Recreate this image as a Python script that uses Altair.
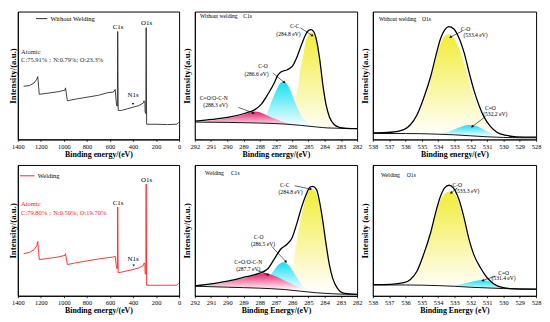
import altair as alt
import pandas as pd

FONT = "Liberation Serif"
NB = "\u00a0"
YEL = "#f2ec38"
CYA = "#14dff2"
PNK = "#e8206c"
RED = "#ff2020"

# ---------------- survey spectra (arbitrary units) ----------------
survey_ev = [1350, 1300, 1260, 1235, 1227, 1214, 1150, 1050, 990, 986, 970, 900, 800, 700, 620, 570, 555,
             543, 536, 533, 529, 500, 450, 400, 350, 310, 304, 297, 295, 289, 286, 282, 200, 100, 20, 5]
survey_without = [165, 167, 175, 187, 195, 140, 143, 148, 153, 160, 120, 125, 131, 137, 145, 147, 155,
                  105, 103, 335, 90, 90, 95, 100, 105, 113, 120, 117, 85, 80, 347, 47, 47, 46, 47, 53]
survey_with = [128, 132, 140, 152, 165, 110, 113, 118, 123, 128, 95, 100, 106, 112, 116, 118, 120,
               85, 82, 270, 70, 72, 76, 80, 85, 92, 100, 97, 68, 65, 340, 32, 32, 32, 32, 38]
survey_ticks = [1400, 1200, 1000, 800, 600, 400, 200, 0]

# ---------------- C1s, without welding ----------------
c1_bg_ev = [292.0, 290.0, 288.0, 286.5, 285.5, 284.5, 283.8, 283.0, 282.0]
c1_bg = [53, 52, 50, 47, 43, 38, 35, 34, 33]
c1_env_ev = [292.0, 290.9, 289.9, 288.9, 288.3, 287.9, 287.5, 287.1, 286.9, 286.7, 286.3, 286.0, 285.7, 285.4,
             285.2, 285.0, 284.85, 284.7, 284.5, 284.3, 284.1, 283.9, 283.7, 283.4, 283.1, 282.7, 282.0]
c1_env = [56, 61, 68, 80, 91, 108, 138, 173, 195, 206, 213, 223, 253, 293,
          318, 333, 336, 331, 303, 243, 163, 103, 68, 45, 37, 34, 33]
c1_cc_ev = [286.2, 286.0, 285.8, 285.6, 285.5, 285.3, 285.2, 285.0, 284.85, 284.7, 284.5, 284.3, 284.1,
            283.95, 283.8, 283.6, 283.4, 283.2]
c1_cc = [47, 83, 123, 173, 213, 263, 293, 318, 328, 323, 298, 238, 158, 113, 78, 58, 43, 36]
c1_co_ev = [287.8, 287.6, 287.3, 287.0, 286.8, 286.55, 286.3, 286.1, 285.9, 285.7, 285.5, 285.3, 285.1, 284.9, 284.7]
c1_co = [50, 73, 113, 148, 168, 178, 168, 148, 123, 98, 78, 63, 53, 45, 40]
c1_pk_ev = [291.5, 291.0, 290.0, 289.4, 288.9, 288.5, 288.3, 288.0, 287.7, 287.3, 286.9, 286.5, 286.1, 285.8]
c1_pk = [53, 58, 65, 71, 78, 83, 85, 83, 77, 68, 60, 53, 48, 46]

# ---------------- O1s, without welding ----------------
o1_bg_ev = [538, 536, 535, 534, 533, 532, 531, 530, 529, 528]
o1_bg = [18, 18, 17.5, 16, 14, 11, 8, 6, 5, 5]
o1_env_ev = [538, 536.9, 536.1, 535.7, 535.3, 534.9, 534.45, 534.15, 533.85, 533.6, 533.35, 533.05, 532.75,
             532.4, 532.1, 531.8, 531.5, 531.2, 530.8, 530.4, 529.8, 529.2, 528]
o1_env = [20, 22, 30, 45, 75, 125, 195, 255, 310, 337, 347, 340, 315, 265, 205, 150, 105, 70, 40, 22, 12, 8, 7]
o1_co_ev = [536.1, 535.6, 535.3, 534.9, 534.5, 534.2, 533.85, 533.6, 533.4, 533.2, 532.9, 532.6, 532.3, 532.0,
            531.7, 531.4, 531.0, 530.6, 530.2, 529.8]
o1_co = [18, 40, 65, 115, 175, 235, 295, 318, 323, 320, 300, 265, 215, 160, 115, 75, 45, 25, 13, 9]
o1_c2_ev = [534.2, 533.4, 532.8, 532.1, 531.7, 531.2, 530.8, 530.4, 530.0]
o1_c2 = [16, 23, 35, 44, 42, 30, 19, 11, 7]

# ---------------- C1s, welding ----------------
c2_bg_ev = [292, 290, 288, 286.5, 285.5, 284.5, 283.5, 283, 282]
c2_bg = [29, 26, 23, 19, 14, 9, 6, 5, 4]
c2_env_ev = [292, 290.9, 289.9, 288.9, 288.1, 287.5, 287.1, 286.7, 286.3, 286.0, 285.7, 285.4, 285.1, 284.9,
             284.72, 284.5, 284.3, 284.1, 283.9, 283.7, 283.5, 283.2, 282.9, 282.5, 282]
c2_env = [30, 37, 45, 57, 67, 82, 112, 142, 157, 177, 222, 272, 312, 330,
          332, 322, 282, 222, 152, 92, 52, 22, 9, 6, 4]
c2_cc_ev = [286.1, 285.9, 285.6, 285.3, 285.0, 284.85, 284.6, 284.3, 284.0, 283.7, 283.4, 283.0, 282.7]
c2_cc = [17, 102, 202, 272, 317, 324, 317, 272, 182, 87, 37, 12, 5]
c2_co_ev = [288.0, 287.6, 287.2, 286.9, 286.55, 286.2, 285.8, 285.4, 285.1, 284.8]
c2_co = [22, 47, 72, 92, 102, 92, 62, 32, 20, 12]
c2_pk_ev = [291.8, 291.0, 290.0, 288.9, 288.1, 287.7, 287.2, 286.7, 286.1, 285.5, 284.9, 284.1, 283.3]
c2_pk = [29, 34, 42, 54, 65, 69, 62, 52, 37, 24, 14, 9, 6]

# ---------------- O1s, welding ----------------
o2_bg_ev = [538, 536, 534, 533, 532, 531, 530, 529, 528]
o2_bg = [33, 33, 31, 29, 26, 24, 22, 21, 20]
o2_env_ev = [538, 536.9, 536.1, 535.7, 535.3, 534.9, 534.45, 534.15, 533.85, 533.6, 533.33, 533.07, 532.73,
             532.42, 532.12, 531.81, 531.4, 531.0, 530.6, 530.2, 529.6, 528]
o2_env = [34, 35, 40, 50, 75, 125, 195, 255, 305, 330, 338, 330, 295, 240, 175, 125, 85, 55, 37, 27, 22, 20]
o2_co_ev = [536.1, 535.5, 534.9, 534.4, 534.0, 533.6, 533.27, 532.9, 532.5, 532.1, 531.7, 531.2, 530.8, 530.4]
o2_co = [33, 60, 118, 200, 275, 312, 320, 305, 245, 165, 102, 53, 34, 25]
o2_c2_ev = [533.6, 532.8, 532.0, 531.3, 530.8, 530.4, 530.0, 529.5]
o2_c2 = [28, 33, 42, 48, 43, 30, 23, 21]

c_ticks = list(range(282, 293))
o_ticks = list(range(528, 539))


def grad(col, start):
    return alt.Gradient(
        gradient="linear",
        stops=[alt.GradientStop(color="#ffffff", offset=0),
               alt.GradientStop(color="#ffffff", offset=start),
               alt.GradientStop(color=col, offset=1)],
        x1=1, x2=1, y1=1, y2=0)


def make_x(dom, vals, title):
    def f(field):
        return alt.X(f"{field}:Q",
                     scale=alt.Scale(domain=dom, reverse=True, nice=False, zero=False),
                     axis=alt.Axis(values=vals, title=title, format="d", labelFlush=False, labelOverlap=False,
                                   titleFont=FONT, titleFontSize=8, titleFontWeight="bold", titleColor="black",
                                   titlePadding=1, labelFont=FONT, labelFontSize=6.5, labelColor="black",
                                   labelPadding=2, tickSize=2, tickColor="black", tickWidth=0.8,
                                   domain=True, domainColor="black", domainWidth=1, grid=False, zindex=1))
    return f


def make_y(top, title, tp):
    def f(field):
        return alt.Y(f"{field}:Q",
                     scale=alt.Scale(domain=[0, top], nice=False, zero=True),
                     axis=alt.Axis(title=title, labels=False, ticks=False, domain=True, domainColor="black",
                                   grid=False, titleFont=FONT, titleFontSize=9, titleFontWeight="bold",
                                   titleColor="black", titlePadding=tp, zindex=1))
    return f


def text_layers(items, X, Y, size, color="black"):
    df = pd.DataFrame(items, columns=["t", "ev", "i", "align"])
    out = []
    for al in ["left", "center"]:
        sub = df[df["align"] == al]
        if len(sub):
            out.append(alt.Chart(sub).mark_text(align=al, baseline="middle", font=FONT, fontSize=size,
                                                color=color).encode(x=X("ev"), y=Y("i"), text="t:N"))
    return out


def arrow_layers(arrows, X, Y):
    df = pd.DataFrame(arrows, columns=["ev", "i", "ev2", "i2", "ang"])
    rule = alt.Chart(df).mark_rule(color="black", strokeWidth=0.6).encode(
        x=X("ev"), y=Y("i"), x2="ev2:Q", y2="i2:Q")
    head = alt.Chart(df).mark_point(shape="triangle", filled=True, color="black", size=9, opacity=1).encode(
        x=X("ev2"), y=Y("i2"), angle=alt.Angle("ang:Q", scale=None))
    return [rule, head]


def spectrum_panel(w, h, dom, vals, top, xtitle, ytitle, tp, peaks, bg, env, texts, arrows):
    X = make_x(dom, vals, xtitle)
    Y = make_y(top, ytitle, tp)
    layers = []
    for ev, iv, col, start in peaks:
        df = pd.DataFrame({"ev": ev, "i": iv})
        layers.append(alt.Chart(df).mark_area(clip=True, interpolate="monotone", color=grad(col, start))
                      .encode(x=X("ev"), y=Y("i")))
    bgdf = pd.DataFrame({"ev": bg[0], "i": bg[1]})
    layers.append(alt.Chart(bgdf).mark_area(clip=True, interpolate="monotone", color="white")
                  .encode(x=X("ev"), y=Y("i")))
    layers.append(alt.Chart(bgdf).mark_line(clip=True, interpolate="monotone", color="#111111", strokeWidth=1)
                  .encode(x=X("ev"), y=Y("i")))
    envdf = pd.DataFrame({"ev": env[0], "i": env[1]})
    layers.append(alt.Chart(envdf).mark_line(clip=True, interpolate="monotone", color="black", strokeWidth=1.3)
                  .encode(x=X("ev"), y=Y("i")))
    layers += arrow_layers(arrows, X, Y)
    layers += text_layers(texts, X, Y, 5.7)
    return alt.layer(*layers).properties(width=w, height=h)


def survey_panel(w, h, top, vals_i, color, legend_text, legend_line, atomic, comp, peak_labels, marker, tcolor):
    X = make_x([0, 1400], survey_ticks, "Binding energy/(eV)")
    Y = make_y(top, "Intensity/(a.u.)", 0)
    df = pd.DataFrame({"ev": survey_ev, "i": vals_i})
    layers = [alt.Chart(df).mark_line(clip=True, color=color, strokeWidth=0.9).encode(x=X("ev"), y=Y("i"))]
    ldf = pd.DataFrame([legend_line], columns=["ev", "ev2", "i"])
    layers.append(alt.Chart(ldf).mark_rule(color=color, strokeWidth=1).encode(x=X("ev"), x2="ev2:Q", y=Y("i")))
    mdf = pd.DataFrame([marker], columns=["ev", "i"])
    layers.append(alt.Chart(mdf).mark_point(shape="triangle-down", filled=True, color="black", size=6, opacity=1)
                  .encode(x=X("ev"), y=Y("i")))
    layers += text_layers([legend_text], X, Y, 6.6)
    layers += text_layers([atomic, comp], X, Y, 6.6, tcolor)
    layers += text_layers(peak_labels, X, Y, 7)
    return alt.layer(*layers).properties(width=w, height=h)


W1, W2, W3 = 164, 165, 166
H1, H2 = 130, 133

p1 = survey_panel(
    W1, H1, 397, survey_without, "#2a2a2a",
    ("Without Welding", 1117, 375, "left"), (1242, 1144, 375),
    ("Atomic", 1372, 270, "left"), ("C:75.91%；N:0.79%; O:23.3%", 1372, 247, "left"),
    [("C1s", 530, 350, "center"), ("O1s", 283, 360, "center"), ("N1s", 400, 137, "center")],
    (400, 110), "#2a2a2a")

p4 = survey_panel(
    W1, H2, 398, survey_with, RED,
    ("Welding", 1228, 365, "left"), (1381, 1256, 365),
    ("Atomic", 1372, 280, "left"), ("C:79.80%；N:0.50%; O:19.70%", 1372, 253, "left"),
    [("C1s", 530, 283, "center"), ("O1s", 283, 353, "center"), ("N1s", 400, 113, "center")],
    (394, 92), RED)

p2 = spectrum_panel(
    W2, H1, [282, 292], c_ticks, 391, "Binding energy/(eV)", "Intensity/(a.u.)", 3.5,
    [(c1_cc_ev, c1_cc, YEL, 0.05), (c1_co_ev, c1_co, CYA, 0.2), (c1_pk_ev, c1_pk, PNK, 0.45)],
    (c1_bg_ev, c1_bg), (c1_env_ev, c1_env),
    [("Without welding" + NB * 4 + "C1s", 291.68, 378, "left"),
     ("C-C", 285.85, 348, "center"), ("(284.8 eV)", 286.23, 323, "center"),
     ("C-O", 287.8, 223, "center"), ("(286.6 eV)", 288.2, 201, "center"),
     ("C=O/O-C-N", 290.83, 128, "center"), ("(288.3 eV)", 290.73, 105, "center")],
    [(285.49, 341, 284.78, 318, 123), (287.2, 203, 286.5, 175, 129), (289.32, 98, 288.41, 81, 111)])

p3 = spectrum_panel(
    W3, H1, [528, 538], o_ticks, 393, "Binding energy/(eV)", "Intensity/(a.u.)", 3.5,
    [(o1_co_ev, o1_co, YEL, 0.03), (o1_c2_ev, o1_c2, CYA, 0.2)],
    (o1_bg_ev, o1_bg), (o1_env_ev, o1_env),
    [("Without welding" + NB * 4 + "O1s", 537.63, 370, "left"),
     ("C-O", 532.32, 340, "center"), ("(533.4 eV)", 531.71, 320, "center"),
     ("C=O", 530.8, 95, "center"), ("(532.2 eV)", 530.5, 78, "center")],
    [(532.52, 333, 533.23, 315, 243), (531.1, 70, 531.9, 40, 233)])

p5 = spectrum_panel(
    W2, H2, [282, 292], c_ticks, 397, "Binding Energy/(eV)", "Intensity/(a.u.)", 3.5,
    [(c2_cc_ev, c2_cc, YEL, 0.03), (c2_co_ev, c2_co, CYA, 0.15), (c2_pk_ev, c2_pk, PNK, 0.25)],
    (c2_bg_ev, c2_bg), (c2_env_ev, c2_env),
    [("Welding" + NB * 5 + "C1s", 291.37, 372, "left"),
     ("C-C", 286.46, 337, "center"), ("(284.8 eV)", 286.1, 315, "center"),
     ("C-O", 288.07, 179, "center"), ("(286.5 eV)", 287.8, 157, "center"),
     ("C=O/O-C-N", 288.71, 102, "center"), ("(287.7 eV)", 288.71, 80, "center")],
    [(285.85, 334, 284.88, 324, 102), (287.26, 150, 286.4, 104, 137), (288.15, 77, 287.5, 64, 112)])

p6 = spectrum_panel(
    W3, H2, [528, 538], o_ticks, 400, "Binding Energy (eV)", "Intensity (a.u.)", 3.5,
    [(o2_co_ev, o2_co, YEL, 0.05), (o2_c2_ev, o2_c2, CYA, 0.35)],
    (o2_bg_ev, o2_bg), (o2_env_ev, o2_env),
    [("Welding" + NB * 5 + "O1s", 537.5, 370, "left"),
     ("C-O", 532.83, 340, "center"), ("(533.3 eV)", 532.22, 320, "center"),
     ("C=O", 529.99, 70, "center"), ("(531.4 eV)", 529.99, 53, "center")],
    [(532.83, 330, 533.19, 315, 230), (530.5, 60, 531.25, 47, 251)])

chart = (alt.concat(p1, p2, p3, p4, p5, p6, columns=3,
                    spacing={"row": 26, "column": 16}, bounds="flush")
         .properties(padding=0, background="white")
         .configure_view(stroke="black", strokeWidth=1))

chart.save("out.html", embed_options={"renderer": "svg", "actions": False})
